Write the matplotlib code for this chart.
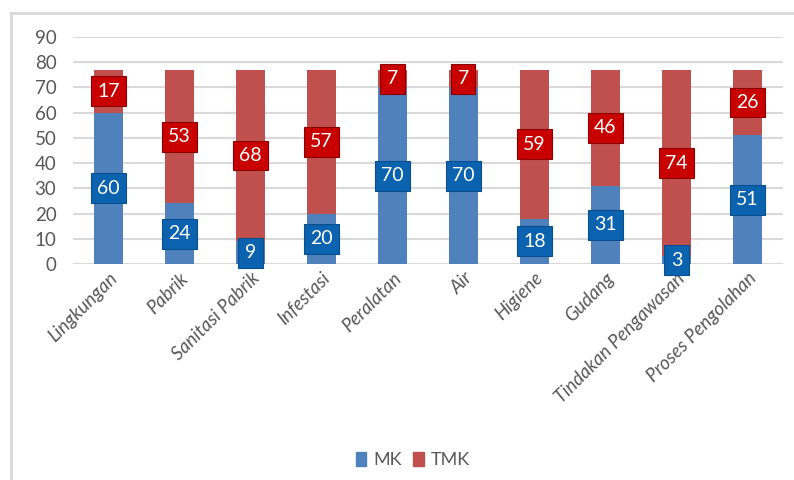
import matplotlib.pyplot as plt
from matplotlib.lines import Line2D
from matplotlib.patches import Patch

categories = ['Lingkungan', 'Pabrik', 'Sanitasi Pabrik', 'Infestasi', 'Peralatan',
              'Air', 'Higiene', 'Gudang', 'Tindakan Pengawasan', 'Proses Pengolahan']
mk = [60, 24, 9, 20, 70, 70, 18, 31, 3, 51]
tmk = [17, 53, 68, 57, 7, 7, 59, 46, 74, 26]

plt.rcParams['font.family'] = ['Lato', 'DejaVu Sans']
grey = '#595959'
blue = '#4F81BD'
red = '#C0504D'

fig = plt.figure(figsize=(7.94, 4.8), dpi=100)
ax = fig.add_axes([0.092, 0.45, 0.894, 0.473])

x = range(len(categories))
ax.bar(x, mk, width=0.41, color=blue, zorder=2)
ax.bar(x, tmk, width=0.41, bottom=mk, color=red, zorder=2)

# data labels in boxes, centred on each segment
for i in x:
    ax.text(i, mk[i] / 2, str(mk[i]), ha='center', va='center', color='white',
            fontsize=14, zorder=4,
            bbox=dict(boxstyle='square,pad=0.33', fc='#0B63B0', ec='#0A4F8C', lw=0.8))
    ax.text(i, mk[i] + tmk[i] / 2, str(tmk[i]), ha='center', va='center', color='white',
            fontsize=14, zorder=4,
            bbox=dict(boxstyle='square,pad=0.33', fc='#C80000', ec='#8B0000', lw=0.8))

ax.set_ylim(0, 90)
ax.set_xlim(-0.5, len(categories) - 0.5)
ax.set_yticks(range(0, 91, 10))
ax.yaxis.grid(True, color='#D9D9D9', lw=1.5, zorder=0)
ax.set_axisbelow(True)
for s in ax.spines.values():
    s.set_visible(False)
ax.tick_params(axis='both', length=0, colors=grey, labelsize=13.5)
ax.tick_params(axis='y', pad=12)
ax.tick_params(axis='x', pad=4)
ax.set_xticks(list(x))
ax.set_xticklabels(categories, rotation=45, ha='right', rotation_mode='anchor',
                   style='italic', fontsize=13.5)

handles = [Patch(color=blue, label='MK'), Patch(color=red, label='TMK')]
fig.legend(handles=handles, loc='center', bbox_to_anchor=(0.52, 0.042), ncol=2,
           frameon=False, fontsize=13, labelcolor=grey, handlelength=0.6,
           handleheight=0.8, handletextpad=0.4, columnspacing=0.6)

# chart frame (cropped)
fig.add_artist(Line2D([11 / 794, 11 / 794], [0, 1 - 13 / 480], color='#D9D9D9', lw=2))
fig.add_artist(Line2D([11 / 794, 1], [1 - 13 / 480, 1 - 13 / 480], color='#D9D9D9', lw=2))

fig.savefig('out.png', dpi=100)
